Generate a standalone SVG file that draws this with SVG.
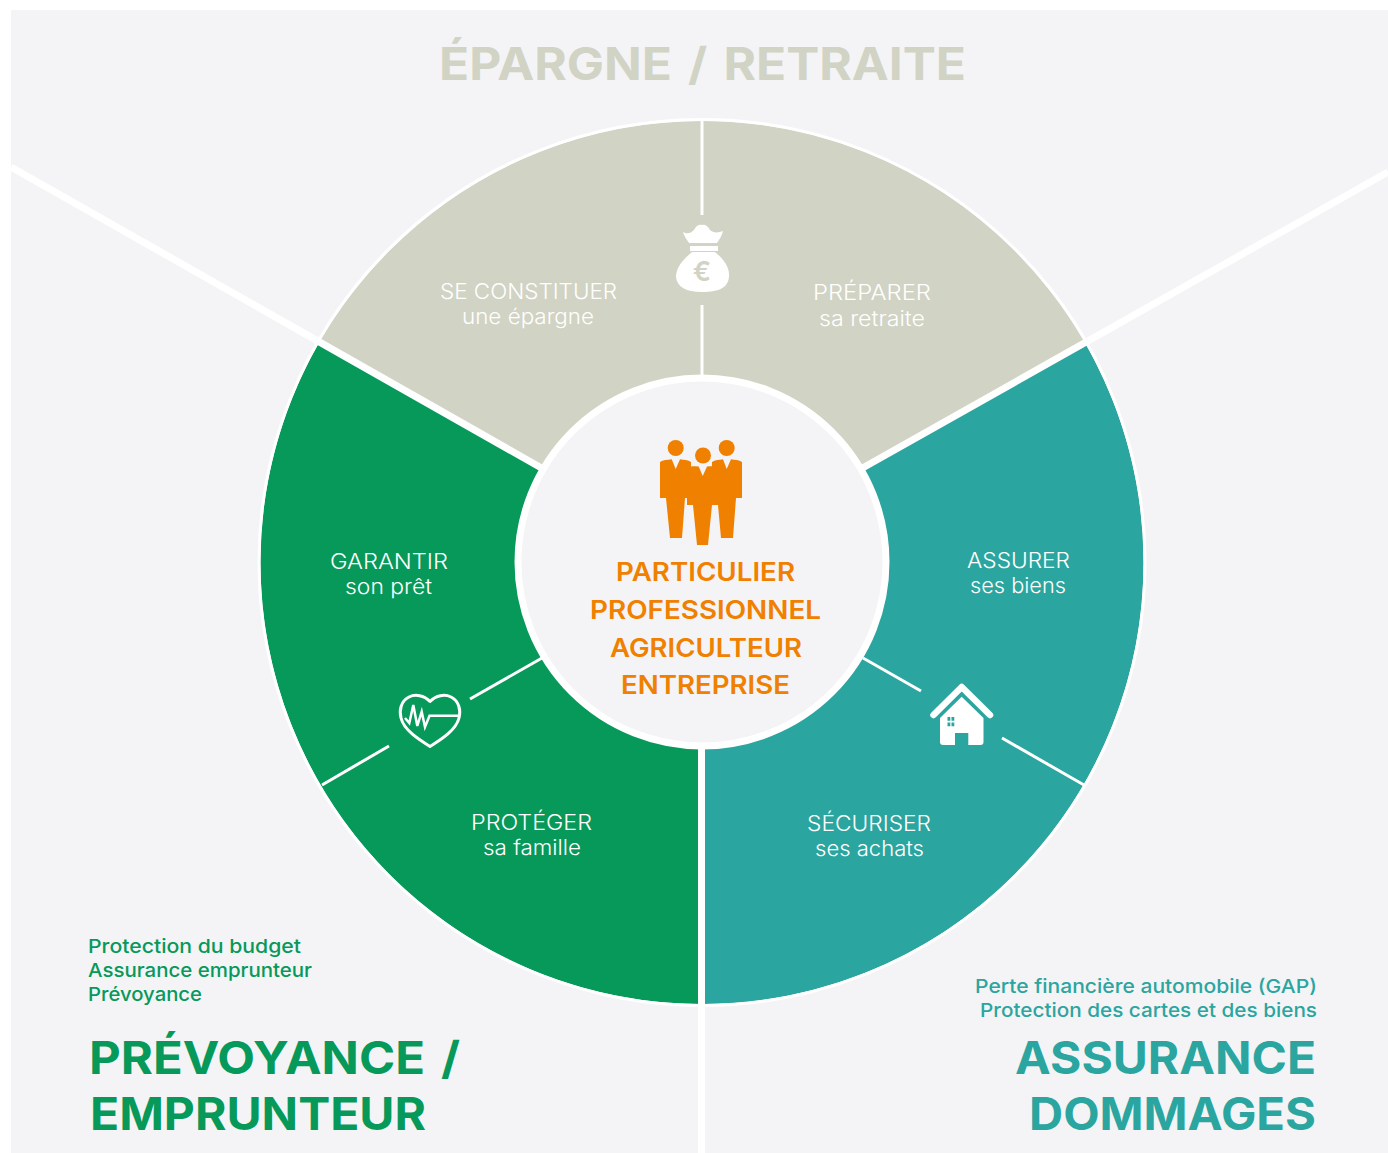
<svg xmlns="http://www.w3.org/2000/svg" width="1388" height="1153" viewBox="0 0 1388 1153">
<style>
text{font-family:"Inter","Liberation Sans",sans-serif}
.lb{font-size:21px;font-weight:300;fill:#fff}
.ct{font-size:26px;font-weight:600;fill:#f08000}
.h{font-size:45px;font-weight:700;word-spacing:4px}
.s{font-size:19px;font-weight:500}
.g{fill:#06995a}.t{fill:#2ba59f}.b{fill:#d1d3c4}
.div{stroke:#fff;stroke-width:3;fill:none}
.sep{stroke:#fff;stroke-width:7;fill:none}
</style>
<rect x="11" y="10" width="1377" height="1143" fill="#f4f4f6"/>
<g id="sector-epargne">
<path class="b" d="M319.600 341.750A441.500 441.500 0 0 1 1084.400 341.750L702 562.500Z"/>
<path class="div" d="M702 120V215M702 305V376"/>
<g fill="#fff"><path d="M683 232C688 235 692 232 694 230C696 225 700 224 702 225C705 224 708 226 710 230C713 233 718 233 723 231C722 236 719 240 717 243H689C687 240 684 236 683 232Z"/><rect x="690" y="246" width="28" height="5"/><path d="M692 252H715C722 258 730 266 729 277C728 287 720 292 702 292C686 292 677 287 676 277C676 266 685 258 692 252Z"/></g>
<text x="702" y="281" text-anchor="middle" font-size="27" font-weight="600" fill="#d1d3c4">€</text>
<text class="lb" x="440" y="299" textLength="177" lengthAdjust="spacingAndGlyphs">SE CONSTITUER</text>
<text class="lb" x="462" y="324" textLength="132" lengthAdjust="spacingAndGlyphs">une épargne</text>
<text class="lb" x="813" y="300" textLength="118" lengthAdjust="spacingAndGlyphs">PRÉPARER</text>
<text class="lb" x="819" y="326" textLength="106" lengthAdjust="spacingAndGlyphs">sa retraite</text>
</g>
<g id="sector-prevoyance">
<path class="g" d="M319.600 341.750L702 562.500H698V1003.980A441.500 441.500 0 0 1 319.600 341.750Z"/>
<path class="div" d="M542 658L470 699M389 746L322 785"/>
<path d="M430 701.500C424 695 415 694 409 697C401 701 399 710 401 718C404 730 418 739 430 746.500C442 739 456 730 459 718C461 710 459 701 451 697C445 694 436 695 430 701.500Z" fill="none" stroke="#fff" stroke-width="3" stroke-linejoin="round"/>
<path d="M460 715.700H429.500L425 727L421.700 711.700L417.300 726L413.300 705L409.300 723L405 718" fill="none" stroke="#fff" stroke-width="2.500"/>
<text class="lb" x="330" y="569" textLength="118" lengthAdjust="spacingAndGlyphs">GARANTIR</text>
<text class="lb" x="345" y="594" textLength="87" lengthAdjust="spacingAndGlyphs">son prêt</text>
<text class="lb" x="471" y="829.500" textLength="121" lengthAdjust="spacingAndGlyphs">PROTÉGER</text>
<text class="lb" x="483" y="855" textLength="98" lengthAdjust="spacingAndGlyphs">sa famille</text>
</g>
<g id="sector-assurance">
<path class="t" d="M1084.400 341.750L702 562.500H705V1003.990A441.500 441.500 0 0 0 1084.400 341.750Z"/>
<path class="div" d="M863 658L921 691M1002 738L1084 785"/>
<path d="M933.500 715L961.700 687L990 715" fill="none" stroke="#fff" stroke-width="6.500" stroke-linecap="round" stroke-linejoin="round"/>
<path fill="#fff" d="M961.700 696.700L983.500 718V742Q983.500 745 980.500 745H943Q940 745 940 742V718Z"/>
<path class="t" d="M955 733H968.300V745H955ZM947.500 717h2.800v3.800h-2.800ZM951.500 717h2.800v3.800h-2.800ZM947.500 722.500h2.800v3.800h-2.800ZM951.500 722.500h2.800v3.800h-2.800Z"/>
<text class="lb" x="967" y="567.500" textLength="103" lengthAdjust="spacingAndGlyphs">ASSURER</text>
<text class="lb" x="970" y="593" textLength="96" lengthAdjust="spacingAndGlyphs">ses biens</text>
<text class="lb" x="807" y="830.500" textLength="124" lengthAdjust="spacingAndGlyphs">SÉCURISER</text>
<text class="lb" x="815" y="856" textLength="109" lengthAdjust="spacingAndGlyphs">ses achats</text>
</g>
<g id="connectors">
<circle cx="702" cy="562.500" r="443" fill="none" stroke="#fff" stroke-width="3"/>
<path class="sep" d="M11 167L545 470M1388 172L859 470M701.500 745V1153"/>
</g>
<g id="center">
<circle cx="702" cy="562" r="184" fill="#f4f4f6" stroke="#fff" stroke-width="7"/>
<g fill="#f08000">
<circle cx="675.700" cy="448" r="8"/><circle cx="726.700" cy="448" r="8"/><circle cx="703" cy="455.500" r="8"/>
<path d="M660 462C663 460 667 460 671.700 459.300L675.700 469L680 459.300C684 460 688 460 691 462V498H685L682 538H670L666 498H660Z"/>
<path d="M712 462C715 460 719 460 723 459.300L726.700 469L731 459.300C735 460 739 460 742 462V498H736L733 538H721L718 505H712Z"/>
<path d="M687 467C690 466 694 466 698.700 466.500L702.700 476L707 466.500C711 466 715 466 718 467V505H712L708 545H697L693 505H687Z"/>
</g>
<text class="ct" x="616" y="581" textLength="179" lengthAdjust="spacingAndGlyphs">PARTICULIER</text>
<text class="ct" x="590" y="619" textLength="231" lengthAdjust="spacingAndGlyphs">PROFESSIONNEL</text>
<text class="ct" x="610" y="657" textLength="192" lengthAdjust="spacingAndGlyphs">AGRICULTEUR</text>
<text class="ct" x="621" y="694" textLength="169" lengthAdjust="spacingAndGlyphs">ENTREPRISE</text>
</g>
<g id="title-epargne">
<text class="h b" x="439" y="80" textLength="527" lengthAdjust="spacingAndGlyphs">ÉPARGNE / RETRAITE</text>
</g>
<g id="legend-prevoyance">
<text class="s g" x="88" y="953" textLength="213" lengthAdjust="spacingAndGlyphs">Protection du budget</text>
<text class="s g" x="88" y="977" textLength="224" lengthAdjust="spacingAndGlyphs">Assurance emprunteur</text>
<text class="s g" x="88" y="1001" textLength="114" lengthAdjust="spacingAndGlyphs">Prévoyance</text>
<text class="h g" x="89" y="1074" textLength="371" lengthAdjust="spacingAndGlyphs">PRÉVOYANCE /</text>
<text class="h g" x="90" y="1130" textLength="336" lengthAdjust="spacingAndGlyphs">EMPRUNTEUR</text>
</g>
<g id="legend-assurance">
<text class="s t" x="975" y="993" textLength="342" lengthAdjust="spacingAndGlyphs">Perte financière automobile (GAP)</text>
<text class="s t" x="980" y="1017" textLength="337" lengthAdjust="spacingAndGlyphs">Protection des cartes et des biens</text>
<text class="h t" x="1015" y="1074" textLength="301" lengthAdjust="spacingAndGlyphs">ASSURANCE</text>
<text class="h t" x="1029" y="1130" textLength="287" lengthAdjust="spacingAndGlyphs">DOMMAGES</text>
</g>
</svg>
